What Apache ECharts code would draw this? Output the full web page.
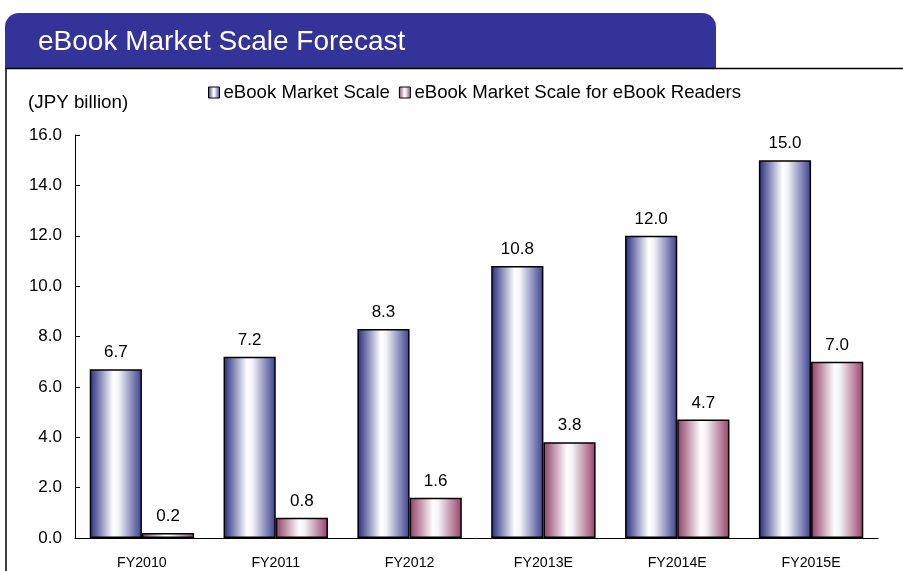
<!DOCTYPE html>
<html><head><meta charset="utf-8">
<script src="https://cdn.jsdelivr.net/npm/echarts@6/dist/echarts.min.js"></script>
<style>html,body{margin:0;padding:0;background:#fff}#c{width:903px;height:571px}</style>
</head><body><div id="c"></div>
<script>
const categories = ['FY2010','FY2011','FY2012','FY2013E','FY2014E','FY2015E'];
const marketScale = [6.7, 7.2, 8.3, 10.8, 12.0, 15.0];
const readersScale = [0.2, 0.8, 1.6, 3.8, 4.7, 7.0];
const seriesNames = ['eBook Market Scale', 'eBook Market Scale for eBook Readers'];
const yTicks = {min: 0, max: 16, interval: 2};
const titleText = 'eBook Market Scale Forecast';
const yUnit = '(JPY billion)';

const FONT = '"Liberation Sans", Arial, sans-serif';
function grad(edgeL, edgeR) {
  return new echarts.graphic.LinearGradient(0, 0, 1, 0, [
    {offset: 0, color: edgeL},
    {offset: 0.45, color: '#ffffff'},
    {offset: 0.55, color: '#f4f4f8'},
    {offset: 1, color: edgeR}
  ]);
}
const chart = echarts.init(document.getElementById('c'));
chart.setOption({
  animation: false,
  backgroundColor: '#fff',
  graphic: [
    {type: 'rect', shape: {x: 5, y: 13, width: 711, height: 56, r: [14, 14, 0, 0]}, style: {fill: '#333399'}},
    {type: 'text', x: 38, y: 42, style: {text: titleText, fill: '#fff', font: '28px ' + FONT, textVerticalAlign: 'middle'}},
    {type: 'polyline', shape: {points: [[6, 571], [6, 68.5], [903, 68.5]]}, style: {stroke: '#000', lineWidth: 1.5, fill: null}},
    {type: 'text', x: 28, y: 103, style: {text: yUnit, fill: '#000', font: '18.8px ' + FONT, textVerticalAlign: 'middle'}}
  ],
  legend: {
    left: 203, top: 78,
    itemWidth: 11, itemHeight: 11, itemGap: 9,
    icon: 'rect',
    itemStyle: {borderColor: '#000', borderWidth: 1},
    textStyle: {fontSize: 18.6, fontFamily: FONT, color: '#000', padding: [0, 0, 0, -1]},
    data: seriesNames
  },
  grid: {left: 75, right: 25, top: 135, bottom: 33},
  xAxis: {
    type: 'category', data: categories,
    axisLine: {lineStyle: {color: '#000', width: 1}},
    axisTick: {inside: true, length: 5, lineStyle: {color: '#000'}},
    axisLabel: {fontSize: 14.2, fontFamily: FONT, color: '#000', margin: 18}
  },
  yAxis: {
    type: 'value', min: yTicks.min, max: yTicks.max, interval: yTicks.interval,
    axisLine: {show: true, lineStyle: {color: '#000', width: 1}},
    axisTick: {show: true, inside: true, length: 5, lineStyle: {color: '#000'}},
    splitLine: {show: false},
    axisLabel: {fontSize: 17, fontFamily: FONT, color: '#000', margin: 13, formatter: v => v.toFixed(1)}
  },
  series: [
    {
      name: seriesNames[0], type: 'bar', data: marketScale,
      barGap: '0%', barCategoryGap: '22%',
      itemStyle: {color: grad('#262a7e', '#3b3f90'), borderColor: '#000', borderWidth: 1.5},
      label: {show: true, position: 'top', distance: 8, fontSize: 17, fontFamily: FONT, color: '#000', formatter: p => p.value.toFixed(1)}
    },
    {
      name: seriesNames[1], type: 'bar', data: readersScale,
      itemStyle: {color: grad('#8f3d64', '#9a4068'), borderColor: '#000', borderWidth: 1.5},
      label: {show: true, position: 'top', distance: 8, fontSize: 17, fontFamily: FONT, color: '#000', formatter: p => p.value.toFixed(1)}
    }
  ]
});
</script></body></html>
